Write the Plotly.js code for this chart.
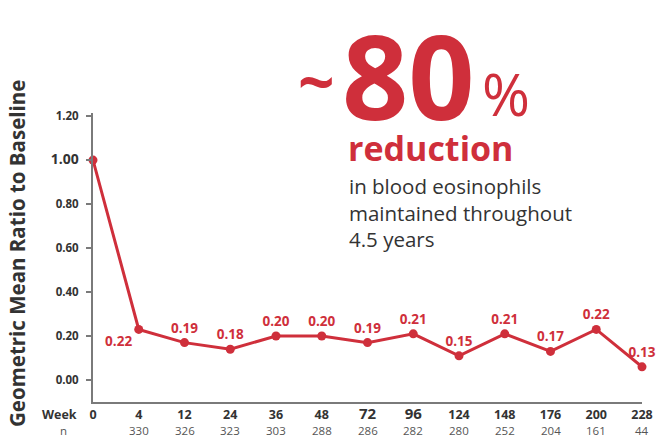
<!DOCTYPE html>
<html>
<head>
<meta charset="utf-8">
<script src="https://cdn.plot.ly/plotly-3.0.1.min.js"></script>
<style>
  html, body { margin: 0; padding: 0; background: #fff; }
  #chart { width: 664px; height: 439px; }
</style>
</head>
<body>
<div id="chart"></div>
<script>
// week of visit, patients at each visit, labelled ratio, and where each point sits in the picture
var weeks = ['0', '4', '12', '24', '36', '48', '72', '96', '124', '148', '176', '200', '228'];
var nPatients = ['', '330', '326', '323', '303', '288', '286', '282', '280', '252', '204', '161', '44'];
var ratioLabels = ['', '0.22', '0.19', '0.18', '0.20', '0.20', '0.19', '0.21', '0.15', '0.21', '0.17', '0.22', '0.13'];
var ratioPlotted = [1.00, 0.23, 0.17, 0.14, 0.20, 0.20, 0.17, 0.21, 0.11, 0.21, 0.13, 0.23, 0.06];
var yTicks = [0, 0.2, 0.4, 0.6, 0.8, 1.0, 1.2];
var yTickText = ['0.00', '0.20', '0.40', '0.60', '0.80', '1.00', '1.20'];

var RED = '#cf2f3b';
var DARK = '#333333';
var AXIS = '#7a7a7a';
var FONT = '"Open Sans", "DejaVu Sans", sans-serif';

// plot box in pixels, used to place free text in paper coords
var L = 93, R = 642, T = 113, B = 402;
function px(x) { return (x - L) / (R - L); }
function py(y) { return (B - y) / (B - T); }

var xIdx = weeks.map(function (w, i) { return i; });

var textPos = ratioLabels.map(function (t, i) {
  return i === 1 ? 'bottom left' : 'top center';
});

var trace = {
  x: xIdx,
  y: ratioPlotted,
  type: 'scatter',
  mode: 'lines+markers+text',
  text: ratioLabels.map(function (t) { return t ? '<b>' + t + '</b>' : ''; }),
  textposition: textPos,
  textfont: { family: FONT, size: 13.5, color: RED },
  line: { color: RED, width: 3 },
  marker: { color: RED, size: 9 },
  cliponaxis: false,
  hoverinfo: 'skip'
};

var weekTickText = weeks.map(function (w) {
  if (w === '72' || w === '96') return '<b><span style="font-size:15px">' + w + '</span></b>';
  return '<b>' + w + '</b>';
});

var annotations = [];

// n row under the week numbers
nPatients.forEach(function (n, i) {
  if (!n) return;
  annotations.push({
    x: i, xref: 'x', y: py(430), yref: 'paper',
    text: n, showarrow: false, xanchor: 'center', yanchor: 'middle',
    font: { family: FONT, size: 11.5, color: '#555' }
  });
});

annotations.push(
  { x: px(59), y: py(414), xref: 'paper', yref: 'paper', text: '<b>Week</b>', showarrow: false,
    xanchor: 'center', yanchor: 'middle', font: { family: FONT, size: 12.5, color: DARK } },
  { x: px(63), y: py(430), xref: 'paper', yref: 'paper', text: 'n', showarrow: false,
    xanchor: 'center', yanchor: 'middle', font: { family: FONT, size: 11.5, color: '#555' } },
  { x: px(17), y: py(254), xref: 'paper', yref: 'paper', text: '<b>Geometric Mean Ratio to Baseline</b>',
    textangle: -90, showarrow: false, xanchor: 'center', yanchor: 'middle',
    font: { family: FONT, size: 20.5, color: DARK } },
  // headline
  { x: px(296), y: py(80), xref: 'paper', yref: 'paper', text: '<b>~</b>', showarrow: false,
    xanchor: 'left', yanchor: 'middle', font: { family: FONT, size: 64, color: RED } },
  { x: px(340), y: py(75), xref: 'paper', yref: 'paper', text: '<b>80</b>', showarrow: false,
    xanchor: 'left', yanchor: 'middle', font: { family: FONT, size: 116, color: RED } },
  { x: px(480), y: py(93), xref: 'paper', yref: 'paper', text: '%', showarrow: false,
    xanchor: 'left', yanchor: 'middle', font: { family: FONT, size: 58, color: RED } },
  { x: px(346), y: py(148), xref: 'paper', yref: 'paper', text: '<b>reduction</b>', showarrow: false,
    xanchor: 'left', yanchor: 'middle', font: { family: FONT, size: 34, color: RED } },
  { x: px(347), y: py(212), xref: 'paper', yref: 'paper', align: 'left',
    text: 'in blood eosinophils<br>maintained throughout<br>4.5 years', showarrow: false,
    xanchor: 'left', yanchor: 'middle', font: { family: FONT, size: 20.5, color: DARK } }
);

var layout = {
  width: 664,
  height: 439,
  margin: { l: L, r: 664 - R, t: T, b: 439 - B },
  paper_bgcolor: '#fff',
  plot_bgcolor: '#fff',
  showlegend: false,
  font: { family: FONT, color: DARK },
  xaxis: {
    range: [0, 12],
    tickmode: 'array',
    tickvals: xIdx,
    ticktext: weekTickText,
    tickfont: { family: FONT, size: 12.5, color: DARK },
    showgrid: false,
    zeroline: false,
    showline: true,
    linecolor: AXIS,
    linewidth: 2,
    ticks: '',
    fixedrange: true
  },
  yaxis: {
    range: [-0.1, 1.214],
    tickmode: 'array',
    tickvals: yTicks,
    ticktext: yTickText.map(function (t) {
      return t === '1.00' ? '<b><span style="font-size:14px">' + t + '</span></b>' : '<b>' + t + '</b>';
    }),
    tickfont: { family: FONT, size: 11.5, color: DARK },
    ticklabelstandoff: 5,
    showgrid: false,
    zeroline: false,
    showline: true,
    linecolor: AXIS,
    linewidth: 2,
    ticks: 'outside',
    ticklen: 5,
    tickwidth: 2,
    tickcolor: AXIS,
    fixedrange: true
  },
  annotations: annotations
};

Plotly.newPlot('chart', [trace], layout, { displayModeBar: false, staticPlot: true });
</script>
</body>
</html>
